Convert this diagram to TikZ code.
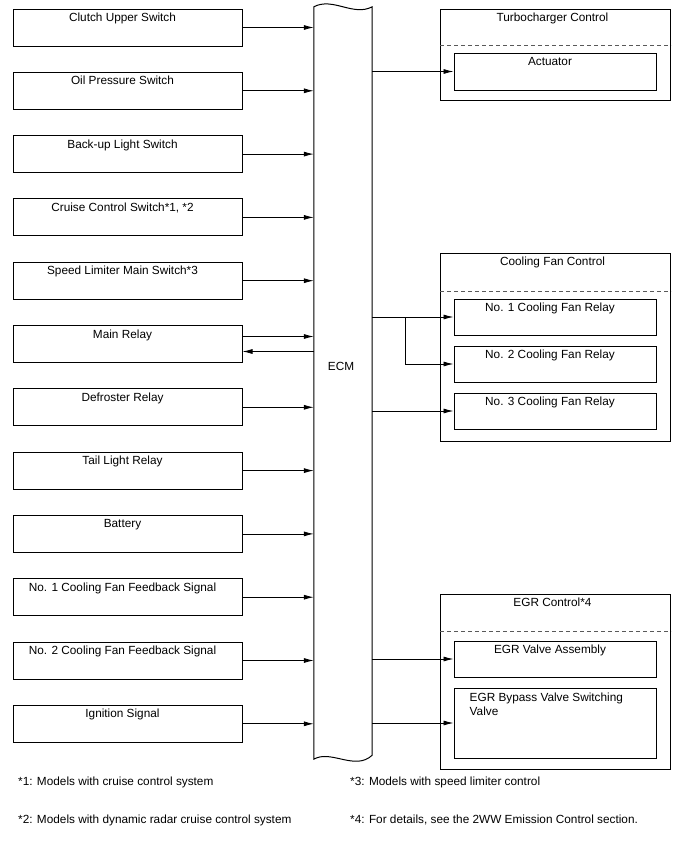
\documentclass[tikz,border=0pt]{standalone}
\usepackage{fontspec}
\setmainfont{Liberation Sans}
\usetikzlibrary{arrows.meta, positioning, calc}
\tikzset{
  inputbox/.style = {
    rectangle, draw=black, line width=1pt,
    minimum width=229pt, minimum height=37pt, inner sep=0pt
  },
  groupbox/.style = {
    rectangle, draw=black, line width=1pt,
    minimum width=230pt, inner sep=0pt
  },
  outputbox/.style = {
    rectangle, draw=black, line width=1pt,
    minimum width=202pt, minimum height=36pt, inner sep=0pt
  },
  boxtext/.style  = {anchor=base, yshift=-13pt, xshift=-5pt, inner sep=0pt},
  grouptext/.style = {anchor=base, yshift=-13pt, xshift=-3pt, inner sep=0pt},
  sepline/.style  = {dash pattern=on 4pt off 3pt, line width=0.8pt, gray!70!black},
  myarrow/.style  = {-{Latex[length=10pt, width=5pt]}, line width=0.8pt},
  note/.style     = {anchor=base west, inner sep=0pt}
}

\begin{document}
\begin{tikzpicture}[
  x=1pt, y=-1pt,
  node distance = 25.3pt,
  font = \fontsize{11.8pt}{14pt}\selectfont
]
\useasboundingbox (0,0) rectangle (688,852);

% ----- ECM -----
\node[minimum width=58pt, minimum height=752pt, inner sep=0pt] (ecm) at (343,383) {};
\draw[line width=1pt] (ecm.north west) .. controls +(19,-10) and +(-19,10) .. (ecm.north east)
  -- ($(ecm.south east)+(0,-4)$) .. controls +(-17,16) and +(17,-10) .. (ecm.south west) -- cycle;
\node (ecmtext) at (341,366) {ECM};

% ----- INPUTS (left column) -----
\node[inputbox, label={[boxtext]north:Clutch Upper Switch}] (clutchsw) at (127.5,27.5) {};
\node[inputbox, below=of clutchsw, label={[boxtext]north:Oil Pressure Switch}] (oilsw) {};
\node[inputbox, below=of oilsw, label={[boxtext]north:Back-up Light Switch}] (backupsw) {};
\node[inputbox, below=of backupsw, label={[boxtext]north:{Cruise Control Switch*1, *2}}] (cruisesw) {};
\node[inputbox, below=of cruisesw, label={[boxtext]north:Speed Limiter Main Switch*3}] (speedsw) {};
\node[inputbox, below=of speedsw, label={[boxtext]north:Main Relay}] (mainrly) {};
\node[inputbox, below=of mainrly, label={[boxtext]north:Defroster Relay}] (defrostrly) {};
\node[inputbox, below=of defrostrly, label={[boxtext]north:Tail Light Relay}] (taillrly) {};
\node[inputbox, below=of taillrly, label={[boxtext]north:Battery}] (battery) {};
\node[inputbox, below=of battery, label={[boxtext]north:No. 1 Cooling Fan Feedback Signal}] (fanfbone) {};
\node[inputbox, below=of fanfbone, label={[boxtext]north:No. 2 Cooling Fan Feedback Signal}] (fanfbtwo) {};
\node[inputbox, below=of fanfbtwo, label={[boxtext]north:Ignition Signal}] (ignsig) {};

% ----- OUTPUTS (right column) -----
\node[groupbox, minimum height=91pt, label={[grouptext]north:Turbocharger Control}] (turbo) at (555.5,54.5) {};
\draw[sepline] ([yshift=-37pt]turbo.north west) -- ([yshift=-37pt]turbo.north east);
\node[outputbox, minimum height=37pt, label={[boxtext]north:Actuator}] (actuator) at (555,71.5) {};

\node[groupbox, minimum height=188pt, label={[grouptext]north:Cooling Fan Control}] (fanctl) at (555.5,347) {};
\draw[sepline] ([yshift=-39pt]fanctl.north west) -- ([yshift=-39pt]fanctl.north east);
\node[outputbox, label={[boxtext]north:No. 1 Cooling Fan Relay}] (fanrlyone) at (555,317) {};
\node[outputbox, below=10pt of fanrlyone, label={[boxtext]north:No. 2 Cooling Fan Relay}] (fanrlytwo) {};
\node[outputbox, below=10pt of fanrlytwo, label={[boxtext]north:No. 3 Cooling Fan Relay}] (fanrlythree) {};

\node[groupbox, minimum height=175pt, label={[grouptext]north:EGR Control*4}] (egrctl) at (555.5,681.5) {};
\draw[sepline] ([yshift=-38pt]egrctl.north west) -- ([yshift=-38pt]egrctl.north east);
\node[outputbox, label={[boxtext]north:EGR Valve Assembly}] (egrvalve) at (555,659) {};
\node[outputbox, minimum height=70pt,
      label={[anchor=north west, xshift=16pt, yshift=-5pt, inner sep=0pt, align=left]north west:EGR Bypass Valve Switching\\Valve}]
      (egrbypass) at (555,723) {};

% ----- ARROWS: inputs --> ECM -----
\draw[myarrow] (clutchsw) -- (clutchsw -| ecm.west);
\draw[myarrow] (oilsw) -- (oilsw -| ecm.west);
\draw[myarrow] (backupsw) -- (backupsw -| ecm.west);
\draw[myarrow] (cruisesw) -- (cruisesw -| ecm.west);
\draw[myarrow] (speedsw) -- (speedsw -| ecm.west);

% Main relay: both ways
\coordinate (mrin)  at ([yshift=7.5pt]mainrly.east);
\coordinate (mrout) at ([yshift=-7.5pt]mainrly.east);
\draw[myarrow] (mrin) -- (mrin -| ecm.west);
\draw[myarrow] (mrout -| ecm.west) -- (mrout);

\draw[myarrow] (defrostrly) -- (defrostrly -| ecm.west);
\draw[myarrow] (taillrly) -- (taillrly -| ecm.west);
\draw[myarrow] (battery) -- (battery -| ecm.west);
\draw[myarrow] (fanfbone) -- (fanfbone -| ecm.west);
\draw[myarrow] (fanfbtwo) -- (fanfbtwo -| ecm.west);
\draw[myarrow] (ignsig) -- (ignsig -| ecm.west);

% ----- ARROWS: ECM --> outputs -----
\draw[myarrow] (actuator -| ecm.east) -- (actuator);
\draw[myarrow] (fanrlyone -| ecm.east) -- (fanrlyone);
\coordinate (fansplit) at ($(fanrlyone -| ecm.east)+(33,0)$);
\draw[myarrow] (fansplit) |- (fanrlytwo);
\draw[myarrow] (fanrlythree -| ecm.east) -- (fanrlythree);
\draw[myarrow] (egrvalve -| ecm.east) -- (egrvalve);
\draw[myarrow] (egrbypass -| ecm.east) -- (egrbypass);

% ----- FOOTNOTES -----
\node[note] (fnone)   at (18,785)  {*1: Models with cruise control system};
\node[note] (fntwo)   at (18,823)  {*2: Models with dynamic radar cruise control system};
\node[note] (fnthree) at (350,785) {*3: Models with speed limiter control};
\node[note] (fnfour)  at (350,823) {*4: For details, see the 2WW Emission Control section.};

\end{tikzpicture}
\end{document}
